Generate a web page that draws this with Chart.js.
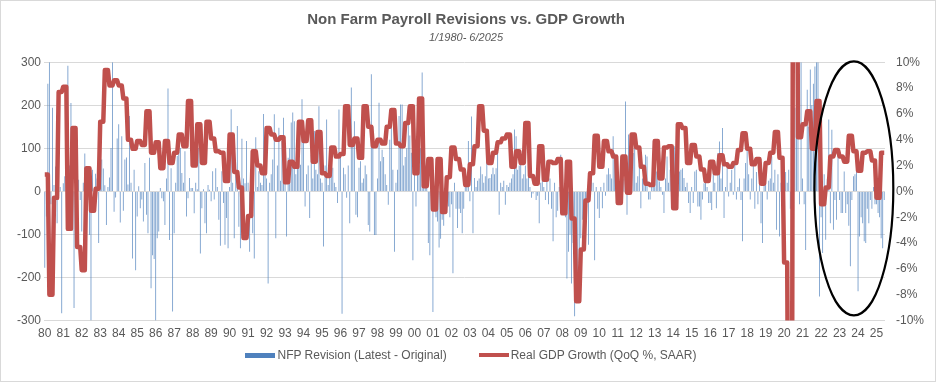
<!DOCTYPE html>
<html>
<head>
<meta charset="utf-8">
<title>Non Farm Payroll Revisions vs. GDP Growth</title>
<script src="https://cdn.jsdelivr.net/npm/chart.js@4.4.1/dist/chart.umd.min.js"></script>
<style>
  html, body { margin: 0; padding: 0; background: #fff; }
  #wrap { position: relative; width: 934px; height: 380px; border: 1px solid #d9d9d9; }
  #legend {
    position: absolute; left: 0; right: 0; top: 346px;
    display: flex; justify-content: center; padding-left: 6px;
    font: 12px 'Liberation Sans Narrow', 'Arial Narrow', 'Liberation Sans', Arial, sans-serif;
    color: #595959; line-height: 16px;
  }
  #legend .item { display: flex; align-items: center; margin: 0 16px; }
  #legend .sw { display: inline-block; width: 30px; margin-right: 2px; }
</style>
</head>
<body>
<div id="wrap">
  <canvas id="chart"></canvas>
  <div id="legend"></div>
</div>
<script>
// NFP revision (latest - original), thousands, monthly 1/1980 - 6/2025
const nfpRevisions = [
  -177, -58, 250, 300, -30, 194, 15, 58, -74, -12, 10, -283,      // 1980
  19, 35, 95, 292, 60, 205, -43, -271, 25, 10, 27, -20,           // 1981
  -93, 20, 88, -15, -20, -101, -300, 50, -5, 41, 30, -120,        // 1982
  20, 74, 53, 14, -78, 10, 32, 101, 300, -47, -14, 123,           // 1983
  156, -72, 128, -45, 74, 79, 16, 175, 20, -156, 50, -183,        // 1984
  -58, 12, -39, -19, -70, 66, -54, -97, 78, -225, -148, -157,     // 1985
  -300, -109, -93, 8, -16, -23, -78, 30, 239, -113, 54, -279,     // 1986
  -97, 20, 82, 105, 101, 43, 20, 93, -58, -16, 31, 8,             // 1987
  8, -51, 20, 5, 101, -144, -39, 5, -74, -97, 15, 4,              // 1988
  -23, 47, -19, 54, 10, -66, -126, 47, -27, -124, -62, -132,      // 1989
  10, 191, 20, -109, 40, 152, -82, -132, 122, 30, 19, 117,        // 1990
  20, -140, -35, -97, -156, 126, 10, 47, 20, 15, 180, 93,         // 1991
  30, -214, 20, 40, 74, 179, -109, 60, 148, 25, 117, 171,         // 1992
  50, -105, 78, 100, 160, 183, 163, 40, 60, 93, 62, 214,          // 1993
  125, -35, 40, 60, -62, 85, 30, 140, 50, 40, 198, 30,            // 1994
  20, -128, 60, 167, 15, 40, 45, 55, 20, 10, -27, 190,            // 1995
  80, -284, 55, 40, -15, 60, -74, 241, 105, 163, -54, -60,        // 1996
  55, 70, 20, 30, 60, 40, -78, -93, 272, 150, -101, -101,         // 1997
  30, 206, 70, 97, 80, 40, 15, -31, 120, 171, 50, -140,           // 1998
  20, 50, 175, 202, 202, 60, 80, 100, 198, 130, 90, -160,         // 1999
  70, -35, 40, 60, 100, 276, 101, 60, 40, -120, -148, 30,         // 2000
  -280, -40, -60, -70, -130, -110, -66, -80, -20, -50, -35, -60,  // 2001
  -30, -190, 20, -40, -85, -40, -50, -97, -40, 15, 20, 117,       // 2002
  -23, 174, -97, 31, 10, 25, 30, 58, 40, 20, 35, 93,              // 2003
  30, 31, 40, 55, 40, 54, 93, -54, 20, 10, 25, -31,               // 2004
  15, 10, 20, 30, 40, 144, 128, 50, 60, 95, 30, 40,               // 2005
  60, 30, 124, 10, -15, -5, 0, -20, -10, -74, 20, 25,             // 2006
  10, -20, 25, -30, 30, -40, -116, 20, -60, -45, 10, 85,          // 2007
  -20, -40, -60, -202, -140, -100, -214, -120, -290, -217, -186, -167, // 2008
  -109, -66, -30, -109, -20, -124, 30, 45, 20, -160, 10, -40,     // 2009
  -62, 10, -39, 20, -10, 39, 54, 40, 30, 128, 89, 20,             // 2010
  25, 20, 20, 25, 30, 209, -54, 132, 105, 40, 89, 116,            // 2011
  20, 35, 62, -39, 30, 50, 85, 81, -19, -19, 19, 50,              // 2012
  62, 46, 30, 23, 10, -8, -50, 30, 81, 20, 50, 10,                // 2013
  -27, 105, 20, -12, 46, 50, 54, 31, 10, 20, -27, -50,            // 2014
  10, -27, 46, 50, -35, -35, -66, -19, 19, 35, 10, -27,           // 2015
  -27, -43, 50, 20, -39, 89, 116, 30, 147, -62, 10, 54,           // 2016
  -12, 20, 50, -8, 62, -19, 10, 30, -20, -116, 30, 66,            // 2017
  120, 40, -19, 30, 70, -40, 45, -30, 20, -74, -120, 20,          // 2018
  40, -19, 25, 30, 81, 20, 50, -89, 40, -105, 20, 10,             // 2019
  -30, 45, 20, 50, -40, 10, 30, 194, 128, 267, -30, 300,          // 2020
  30, -30, -136, 236, 150, 283, 200, 250, 290, 300, 300, -244,    // 2021
  -60, -143, 40, -112, 30, 167, -74, 143, -89, -20, -66, 89,      // 2022
  -20, -50, -50, 46, -50, -30, -80, -174, -20, 35, 40, 81,        // 2023
  -232, -105, -60, -74, -116, -120, -40, -74, -20, -40, 10, -30,  // 2024
  -30, -50, -60, -109, -132, -20                                  // 2025 H1
];

// Real GDP growth, QoQ % SAAR, 1980Q1 - 2025Q2
const gdpQuarterly = [
  1.3, -8.0, -0.5, 7.7,   8.1, -2.9, 4.9, -4.3,   -6.1, 1.8, -1.5, 0.2,   5.4, 9.4, 8.2, 8.6,
  8.2, 7.2, 4.0, 3.3,     3.9, 3.6, 6.2, 3.0,     3.8, 1.8, 3.9, 2.2,     3.0, 4.4, 3.5, 7.0,
  2.0, 5.2, 2.2, 5.4,     4.1, 3.1, 3.0, 0.8,     4.4, 1.5, 0.3, -3.6,    -1.9, 3.1, 2.0, 1.4,
  4.9, 4.4, 4.0, 4.2,     0.7, 2.3, 1.9, 5.4,     3.9, 5.5, 2.3, 4.6,     1.4, 1.2, 3.4, 2.7,
  2.9, 6.6, 3.6, 4.1,     2.6, 6.6, 5.0, 3.5,     4.0, 3.7, 5.0, 6.3,     3.7, 3.5, 5.3, 6.6,
  1.4, 7.2, 0.4, 2.5,     -1.4, 2.5, -1.6, 1.1,   3.4, 2.5, 1.7, 0.5,     2.1, 3.5, 6.6, 4.7,
  2.2, 3.0, 3.8, 4.1,     4.4, 1.9, 3.1, 2.2,     5.3, 1.2, 0.6, 3.5,     0.9, 2.3, 2.2, 2.5,
  -1.7, 2.3, -2.1, -8.5,  -4.5, -0.7, 1.4, 4.3,   1.9, 3.9, 3.1, 2.7,     -0.9, 2.7, -0.1, 4.4,
  3.4, 1.9, 0.6, 0.5,     3.9, 1.0, 3.4, 3.5,     -1.3, 5.2, 4.9, 2.2,    3.6, 2.7, 1.7, 0.8,
  2.3, 1.4, 2.8, 2.1,     1.9, 2.2, 3.2, 4.5,     3.3, 2.1, 2.5, 0.6,     2.2, 3.0, 4.6, 2.6,
  -5.5, -28.0, 34.8, 4.2, 5.2, 6.2, 3.3, 7.0,     -1.0, 0.3, 2.7, 3.2,    2.7, 2.3, 4.3, 3.1,
  1.6, 3.0, 3.1, 2.4,     -0.5, 3.0
];

const yearLabels = ['80','81','82','83','84','85','86','87','88','89','90','91','92','93','94','95',
  '96','97','98','99','00','01','02','03','04','05','06','07','08','09','10','11','12','13','14','15',
  '16','17','18','19','20','21','22','23','24','25'];

// each quarter's rate is held for its three months
const gdpMonthly = gdpQuarterly.flatMap((v) => [v, v, v]);
const monthLabels = nfpRevisions.map((_, i) => (i % 12 + 1) + '/' + (1980 + Math.floor(i / 12)));

// the hand-drawn oval around 2022-2025, in data units
const oval = { centerMonth: 525.3, halfWidthMonths: 25.6, top: 302, bottom: -288 };

const txt = '#595959';
const blue = 'rgb(79,129,189)';
const red = '#C0504D';
const fontFam = "'Liberation Sans Narrow', 'Arial Narrow', 'Liberation Sans', Arial, sans-serif";

const ovalPlugin = {
  id: 'oval',
  afterDatasetsDraw(chart) {
    const ctx = chart.ctx;
    const x = chart.scales.x;
    const y = chart.scales.y;
    const cx = x.getPixelForValue(oval.centerMonth);
    const rx = x.getPixelForValue(oval.centerMonth + oval.halfWidthMonths) - cx;
    const t = y.getPixelForValue(oval.top);
    const b = y.getPixelForValue(oval.bottom);
    ctx.save();
    ctx.beginPath();
    ctx.ellipse(cx, (t + b) / 2, rx, (b - t) / 2, 0, 0, Math.PI * 2);
    ctx.lineWidth = 2.2;
    ctx.strokeStyle = '#000';
    ctx.stroke();
    ctx.restore();
  }
};

const chart = new Chart(document.getElementById('chart'), {
  type: 'bar',
  data: {
    labels: monthLabels,
    datasets: [
      {
        label: 'NFP Revision (Latest - Original)',
        data: nfpRevisions,
        backgroundColor: 'rgba(79,129,189,0.8)',
        barPercentage: 1,
        categoryPercentage: 0.55,
        yAxisID: 'y',
        order: 2,
        clip: 0
      },
      {
        type: 'line',
        label: 'Real GDP Growth (QoQ %, SAAR)',
        data: gdpMonthly,
        borderColor: red,
        backgroundColor: red,
        borderWidth: 4.5,
        pointRadius: 0,
        tension: 0,
        borderJoinStyle: 'round',
        yAxisID: 'y1',
        order: 1,
        clip: 0
      }
    ]
  },
  options: {
    responsive: true,
    maintainAspectRatio: false,
    animation: false,
    layout: { padding: { top: 8, left: 6, right: 10, bottom: 42 } },
    plugins: {
      title: {
        display: true,
        text: 'Non Farm Payroll Revisions vs. GDP Growth',
        color: txt,
        font: { family: fontFam, size: 15, weight: 'bold' },
        padding: { top: 2, bottom: 2 }
      },
      subtitle: {
        display: true,
        text: '1/1980- 6/2025',
        color: txt,
        font: { family: fontFam, size: 11, style: 'italic' },
        padding: { bottom: 18 }
      },
      legend: { display: false },
      tooltip: { enabled: false }
    },
    scales: {
      x: {
        grid: { display: false },
        border: { display: false },
        ticks: {
          autoSkip: false,
          maxRotation: 0,
          padding: -2,
          color: txt,
          font: { family: fontFam, size: 12 },
          callback: (v, i) => (i % 12 === 0 ? yearLabels[i / 12] : null)
        }
      },
      y: {
        position: 'left',
        min: -300,
        max: 300,
        ticks: { stepSize: 100, color: txt, font: { family: fontFam, size: 12 } },
        grid: { color: '#d9d9d9', drawTicks: false },
        border: { display: false },
        afterFit: (s) => { s.width = 37; }
      },
      y1: {
        position: 'right',
        min: -10,
        max: 10,
        ticks: {
          stepSize: 2,
          color: txt,
          font: { family: fontFam, size: 12 },
          callback: (v) => v + '%'
        },
        grid: { display: false },
        border: { display: false },
        afterFit: (s) => { s.width = 40; }
      }
    }
  },
  plugins: [ovalPlugin]
});

// legend as plain html below the plot: wide bar swatch, thick line swatch
const legendEl = document.getElementById('legend');
const swatchH = [5, 4];
chart.data.datasets.forEach((ds, i) => {
  const item = document.createElement('span');
  item.className = 'item';
  const sw = document.createElement('span');
  sw.className = 'sw';
  sw.style.height = swatchH[i] + 'px';
  sw.style.background = i === 0 ? blue : red;
  item.appendChild(sw);
  item.appendChild(document.createTextNode(ds.label));
  legendEl.appendChild(item);
});
</script>
</body>
</html>
